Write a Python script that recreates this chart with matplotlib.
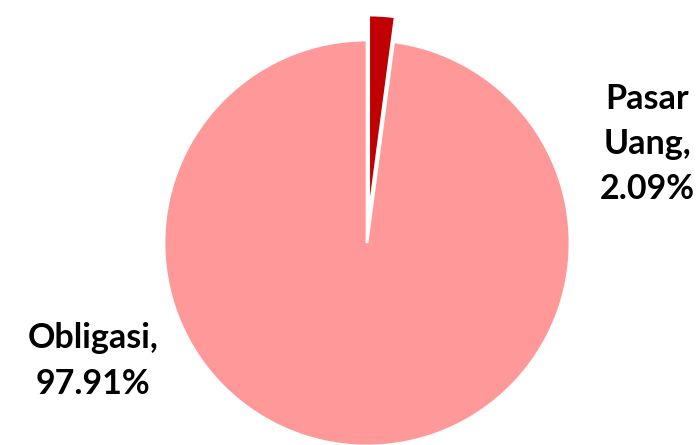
import matplotlib.pyplot as plt

labels = ['Pasar\nUang,\n2.09%', 'Obligasi,\n97.91%']
values = [2.09, 97.91]
colors = ['#C00000', '#FF9999']
explode = [25, 0]  # pixel units, since the axes are in pixels

fig = plt.figure(figsize=(6.98, 4.45), dpi=100)
ax = fig.add_axes([0, 0, 1, 1])

ax.pie(values, colors=colors, explode=explode, startangle=90, counterclock=False,
       center=(367, 202), radius=203,
       wedgeprops=dict(edgecolor='white', linewidth=2))

ax.set_xlim(0, 698)
ax.set_ylim(0, 445)
ax.set_aspect('equal')
ax.axis('off')

font = dict(family='Lato', fontweight='bold', fontsize=24.5, color='black',
            ha='center', va='center', linespacing=1.5)
ax.text(647, 301, labels[0], **font)
ax.text(93, 84, labels[1], **font)

fig.savefig('out.png', dpi=100)
